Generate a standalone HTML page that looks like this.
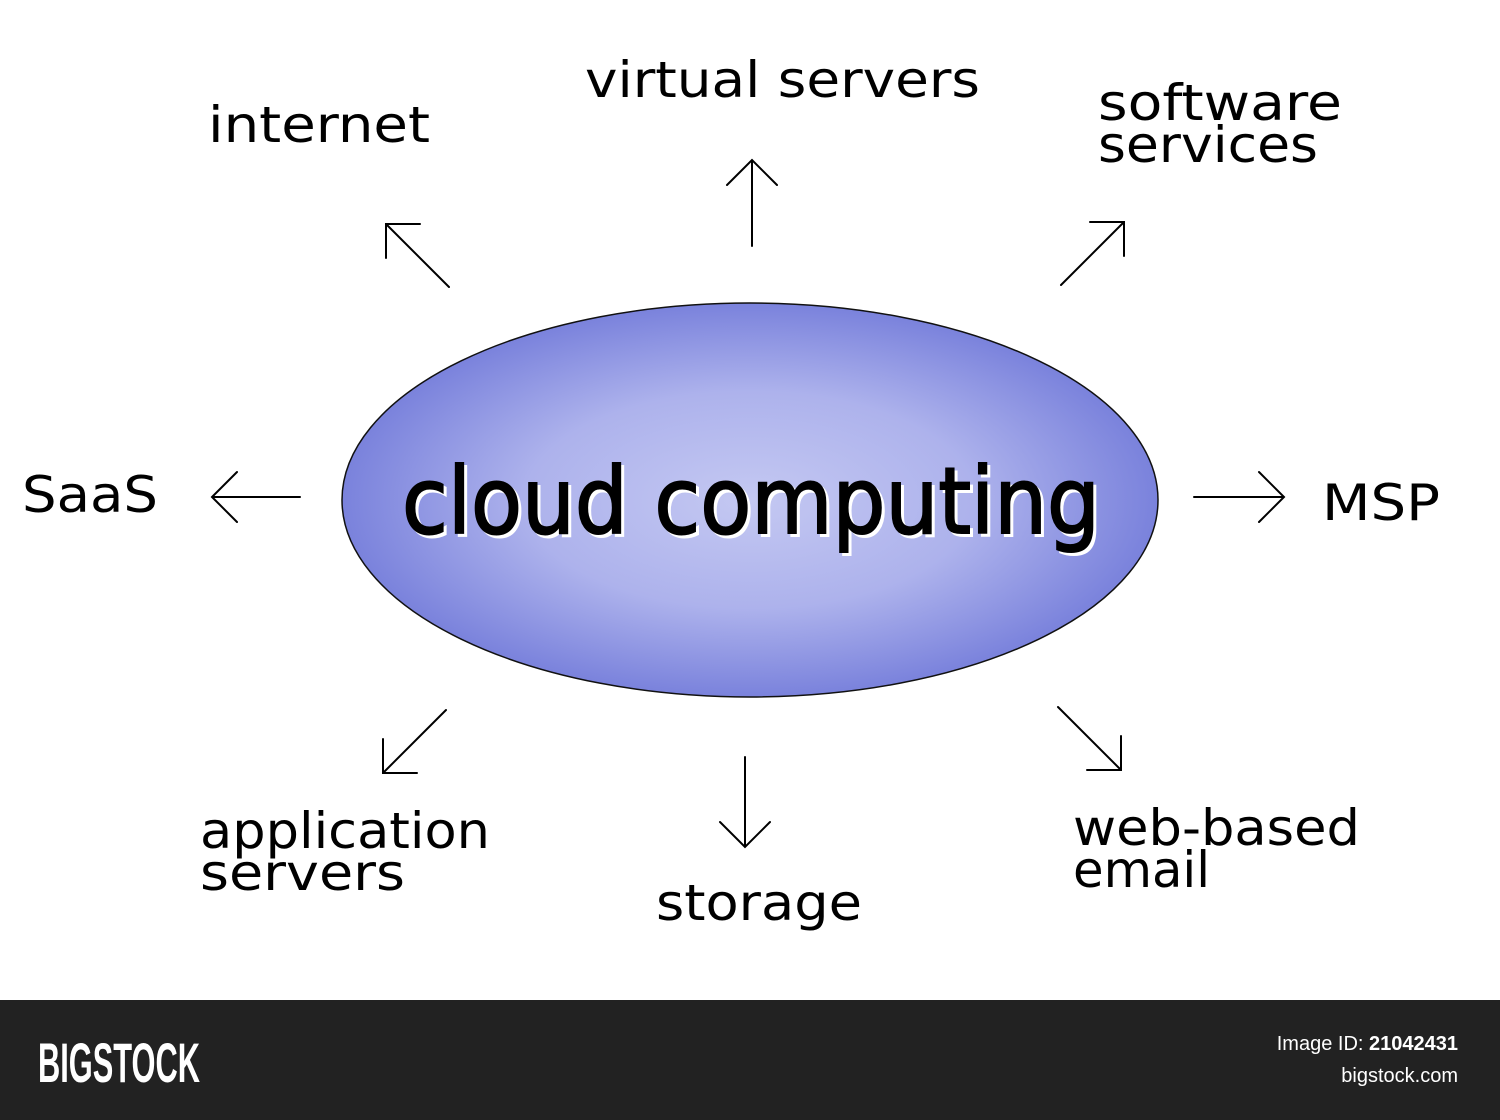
<!DOCTYPE html>
<html><head><meta charset="utf-8"><style>
html,body{margin:0;padding:0;background:#fff;}
svg{display:block}
</style></head><body>
<svg width="1500" height="1120" viewBox="0 0 1500 1120" xmlns="http://www.w3.org/2000/svg">
<defs>
<radialGradient id="g" cx="50%" cy="50%" r="50%">
<stop offset="0" stop-color="#c4c8f2"/>
<stop offset="0.55" stop-color="#adb2ec"/>
<stop offset="1" stop-color="#7a82dc"/>
</radialGradient>
</defs>
<rect width="1500" height="1000" fill="#fff"/>
<ellipse cx="750" cy="500" rx="408" ry="197" fill="url(#g)" stroke="#111" stroke-width="1.5"/>
<g font-family="'DejaVu Sans','Liberation Sans',sans-serif" fill="#000">
<text x="402" y="533" font-size="92" textLength="698" lengthAdjust="spacingAndGlyphs" fill="#fff" stroke="#fff" stroke-width="2" transform="translate(3,3)">cloud computing</text>
<text x="402" y="533" font-size="92" textLength="698" lengthAdjust="spacingAndGlyphs" stroke="#000" stroke-width="2">cloud computing</text>
<g font-size="50">
<text x="585" y="97" textLength="395" lengthAdjust="spacingAndGlyphs">virtual servers</text>
<text x="208" y="142" textLength="222" lengthAdjust="spacingAndGlyphs">internet</text>
<text x="1098" y="120" textLength="244" lengthAdjust="spacingAndGlyphs">software</text>
<text x="1098" y="162" textLength="220" lengthAdjust="spacingAndGlyphs">services</text>
<text x="22" y="512" textLength="136" lengthAdjust="spacingAndGlyphs">SaaS</text>
<text x="1322" y="520" textLength="118" lengthAdjust="spacingAndGlyphs">MSP</text>
<text x="200" y="848" textLength="290" lengthAdjust="spacingAndGlyphs">application</text>
<text x="200" y="890" textLength="205" lengthAdjust="spacingAndGlyphs">servers</text>
<text x="656" y="920" textLength="206" lengthAdjust="spacingAndGlyphs">storage</text>
<text x="1073" y="845" textLength="287" lengthAdjust="spacingAndGlyphs">web-based</text>
<text x="1073" y="887" textLength="137" lengthAdjust="spacingAndGlyphs">email</text>
</g>
</g>
<g stroke="#000" stroke-width="2" fill="none" stroke-linecap="round">
<path d="M752 246V160M727 185L752 160L777 185"/>
<path d="M449 287L386 224M386 258V224H420"/>
<path d="M1061 285L1124 222M1090 222H1124V256"/>
<path d="M300 497H212M237 472L212 497L237 522"/>
<path d="M1194 497H1284M1259 472L1284 497L1259 522"/>
<path d="M446 710L383 773M383 739V773H417"/>
<path d="M745 757V847M720 822L745 847L770 822"/>
<path d="M1058 707L1121 770M1121 736V770H1087"/>
</g>
<rect y="1000" width="1500" height="120" fill="#222"/>
<text x="38" y="1082" font-family="'Liberation Sans',sans-serif" font-size="56" font-weight="bold" fill="#fff" textLength="162" lengthAdjust="spacingAndGlyphs">BIGSTOCK</text>
<text x="1458" y="1050" text-anchor="end" font-family="'Liberation Sans',sans-serif" font-size="20" fill="#fff">Image ID: <tspan font-weight="bold">21042431</tspan></text>
<text x="1458" y="1082" text-anchor="end" font-family="'Liberation Sans',sans-serif" font-size="20" fill="#fff">bigstock.com</text>
</svg>
</body></html>
